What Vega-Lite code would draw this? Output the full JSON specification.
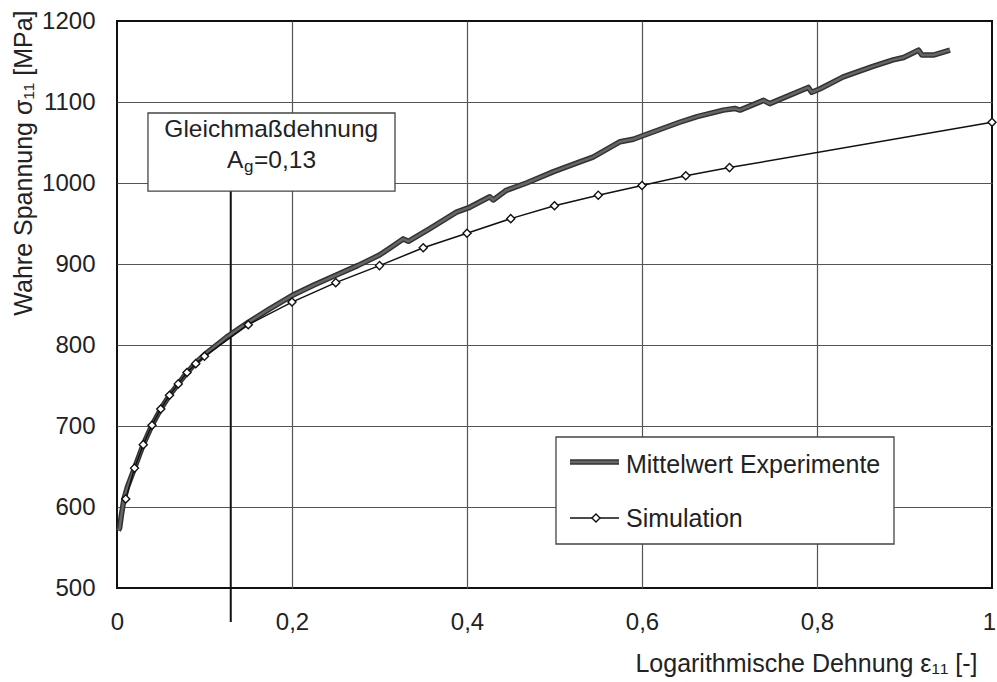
{
  "$schema": "https://vega.github.io/schema/vega-lite/v6.json",
  "width": 875,
  "height": 567,
  "autosize": "none",
  "padding": {"left": 117, "top": 21, "right": 5, "bottom": 94},
  "background": "white",
  "config": {
    "font": "Liberation Sans",
    "view": {"stroke": "#111", "strokeWidth": 2},
    "axis": {
      "labelFont": "Liberation Sans",
      "titleFont": "Liberation Sans",
      "labelFontSize": 24,
      "titleFontSize": 25,
      "titleFontWeight": "normal",
      "labelColor": "#222",
      "titleColor": "#222",
      "domain": false,
      "ticks": false,
      "grid": true,
      "gridColor": "#555",
      "gridWidth": 1.2
    }
  },
  "datasets": {
    "exp": [
      {"x": 0.0015, "y": 571}, {"x": 0.003, "y": 574}, {"x": 0.005, "y": 590}, {"x": 0.008, "y": 610},
      {"x": 0.012, "y": 625}, {"x": 0.02, "y": 648}, {"x": 0.03, "y": 677}, {"x": 0.04, "y": 701},
      {"x": 0.05, "y": 721}, {"x": 0.06, "y": 738}, {"x": 0.07, "y": 752}, {"x": 0.08, "y": 766},
      {"x": 0.09, "y": 778}, {"x": 0.1, "y": 788}, {"x": 0.125, "y": 809.5}, {"x": 0.15, "y": 828},
      {"x": 0.175, "y": 845}, {"x": 0.2, "y": 861}, {"x": 0.225, "y": 874}, {"x": 0.25, "y": 886},
      {"x": 0.275, "y": 898}, {"x": 0.3, "y": 911}, {"x": 0.315, "y": 922}, {"x": 0.327, "y": 931},
      {"x": 0.333, "y": 928}, {"x": 0.358, "y": 944}, {"x": 0.388, "y": 964}, {"x": 0.403, "y": 970},
      {"x": 0.426, "y": 983}, {"x": 0.43, "y": 979}, {"x": 0.445, "y": 991}, {"x": 0.468, "y": 1000},
      {"x": 0.499, "y": 1014}, {"x": 0.529, "y": 1026}, {"x": 0.544, "y": 1032}, {"x": 0.575, "y": 1051},
      {"x": 0.59, "y": 1054}, {"x": 0.6, "y": 1058}, {"x": 0.643, "y": 1075}, {"x": 0.663, "y": 1082},
      {"x": 0.693, "y": 1090}, {"x": 0.706, "y": 1092}, {"x": 0.712, "y": 1090}, {"x": 0.739, "y": 1102},
      {"x": 0.746, "y": 1098}, {"x": 0.79, "y": 1118}, {"x": 0.794, "y": 1112}, {"x": 0.803, "y": 1116},
      {"x": 0.83, "y": 1131}, {"x": 0.864, "y": 1144}, {"x": 0.887, "y": 1152}, {"x": 0.899, "y": 1155},
      {"x": 0.916, "y": 1164}, {"x": 0.92, "y": 1158}, {"x": 0.933, "y": 1158}, {"x": 0.952, "y": 1164}
    ],
    "sim": [
      {"x": 0.01, "y": 610}, {"x": 0.02, "y": 648}, {"x": 0.03, "y": 677}, {"x": 0.04, "y": 701},
      {"x": 0.05, "y": 721}, {"x": 0.06, "y": 738}, {"x": 0.07, "y": 752}, {"x": 0.08, "y": 766},
      {"x": 0.09, "y": 777}, {"x": 0.1, "y": 786}, {"x": 0.15, "y": 825}, {"x": 0.2, "y": 853},
      {"x": 0.25, "y": 877}, {"x": 0.3, "y": 898}, {"x": 0.35, "y": 920}, {"x": 0.4, "y": 938},
      {"x": 0.45, "y": 956}, {"x": 0.5, "y": 972}, {"x": 0.55, "y": 985}, {"x": 0.6, "y": 997},
      {"x": 0.65, "y": 1009}, {"x": 0.7, "y": 1019}, {"x": 1.0, "y": 1075}
    ],
    "ag": [{"x": 0.13, "y": 458, "y2": 995}],
    "box": [{"x": 0.0354, "x2": 0.3177, "y": 990, "y2": 1086.4}],
    "boxtitle": [{"x": 0.1763, "y": 1057.2, "label": "Gleichmaßdehnung"}],
    "agmain": [{"x": 0.1257, "y": 1018.1, "label": "A"}, {"x": 0.1566, "y": 1018.1, "label": "=0,13"}],
    "agsub": [{"x": 0.1451, "y": 1013.6, "label": "g"}],
    "legbox": [{"x": 0.5017, "x2": 0.888, "y": 554.3, "y2": 686.4}],
    "legexp": [{"x": 0.5177, "x2": 0.5737, "y": 655.5}],
    "legsim": [{"x": 0.5177, "x2": 0.5737, "y": 586.4}],
    "legsimpt": [{"x": 0.5474, "y": 586.4}],
    "legtext": [
      {"x": 0.5817, "y": 641.6, "label": "Mittelwert Experimente"},
      {"x": 0.5817, "y": 575.7, "label": "Simulation"}
    ]
  },
  "encoding": {
    "x": {
      "field": "x", "type": "quantitative",
      "scale": {"domain": [0, 1], "nice": false, "zero": false},
      "axis": {
        "values": [0, 0.2, 0.4, 0.6, 0.8, 1],
        "labelExpr": "replace(format(datum.value, '~g'), '.', ',')",
        "labelPadding": 22,
        "labelFlush": false,
        "labelOffset": {"condition": {"test": "datum.value == 1", "value": -3}, "value": 0},
        "gridOpacity": {"condition": {"test": "datum.value == 0 || datum.value == 1", "value": 0}, "value": 1},
        "title": "Logarithmische Dehnung ε₁₁ [-]",
        "titleX": 860, "titleY": 83, "titleAlign": "right", "titleBaseline": "alphabetic", "titleAnchor": null
      }
    },
    "y": {
      "field": "y", "type": "quantitative",
      "scale": {"domain": [500, 1200], "nice": false, "zero": false},
      "axis": {
        "values": [500, 600, 700, 800, 900, 1000, 1100, 1200],
        "format": "d",
        "labelPadding": 22,
        "labelFlush": false,
        "gridOpacity": {"condition": {"test": "datum.value == 500 || datum.value == 1200", "value": 0}, "value": 1},
        "title": "Wahre Spannung σ₁₁ [MPa]",
        "titleX": -86, "titleY": -11, "titleAngle": -90, "titleAlign": "right", "titleBaseline": "alphabetic"
      }
    }
  },
  "layer": [
    {"data": {"name": "ag"}, "mark": {"type": "rule", "color": "#111", "strokeWidth": 2}, "encoding": {"y2": {"field": "y2"}}},
    {"data": {"name": "exp"}, "mark": {"type": "line", "color": "#333", "strokeWidth": 5.5, "strokeJoin": "round"}},
    {"data": {"name": "exp"}, "mark": {"type": "line", "color": "#666", "strokeWidth": 2.5, "strokeJoin": "round"}},
    {"data": {"name": "sim"}, "mark": {"type": "line", "color": "#111", "strokeWidth": 1.5}},
    {"data": {"name": "sim"}, "mark": {"type": "point", "shape": "diamond", "filled": true, "fill": "white", "stroke": "#111", "strokeWidth": 1.4, "size": 65, "opacity": 1}},
    {"data": {"name": "box"}, "mark": {"type": "rect", "fill": "white", "stroke": "#444", "strokeWidth": 1.3}, "encoding": {"x2": {"field": "x2"}, "y2": {"field": "y2"}}},
    {"data": {"name": "boxtitle"}, "mark": {"type": "text", "fontSize": 24.5, "align": "center", "baseline": "alphabetic", "color": "#222"}, "encoding": {"text": {"field": "label"}}},
    {"data": {"name": "agmain"}, "mark": {"type": "text", "fontSize": 24.5, "align": "left", "baseline": "alphabetic", "color": "#222"}, "encoding": {"text": {"field": "label"}}},
    {"data": {"name": "agsub"}, "mark": {"type": "text", "fontSize": 17, "align": "left", "baseline": "alphabetic", "color": "#222"}, "encoding": {"text": {"field": "label"}}},
    {"data": {"name": "legbox"}, "mark": {"type": "rect", "fill": "white", "stroke": "#444", "strokeWidth": 1.3}, "encoding": {"x2": {"field": "x2"}, "y2": {"field": "y2"}}},
    {"data": {"name": "legexp"}, "mark": {"type": "rule", "color": "#333", "strokeWidth": 5.5}, "encoding": {"x2": {"field": "x2"}}},
    {"data": {"name": "legexp"}, "mark": {"type": "rule", "color": "#666", "strokeWidth": 2.5}, "encoding": {"x2": {"field": "x2"}}},
    {"data": {"name": "legsim"}, "mark": {"type": "rule", "color": "#111", "strokeWidth": 1.5}, "encoding": {"x2": {"field": "x2"}}},
    {"data": {"name": "legsimpt"}, "mark": {"type": "point", "shape": "diamond", "filled": true, "fill": "white", "stroke": "#111", "strokeWidth": 1.4, "size": 65, "opacity": 1}},
    {"data": {"name": "legtext"}, "mark": {"type": "text", "fontSize": 25, "align": "left", "baseline": "alphabetic", "color": "#222"}, "encoding": {"text": {"field": "label"}}}
  ]
}
